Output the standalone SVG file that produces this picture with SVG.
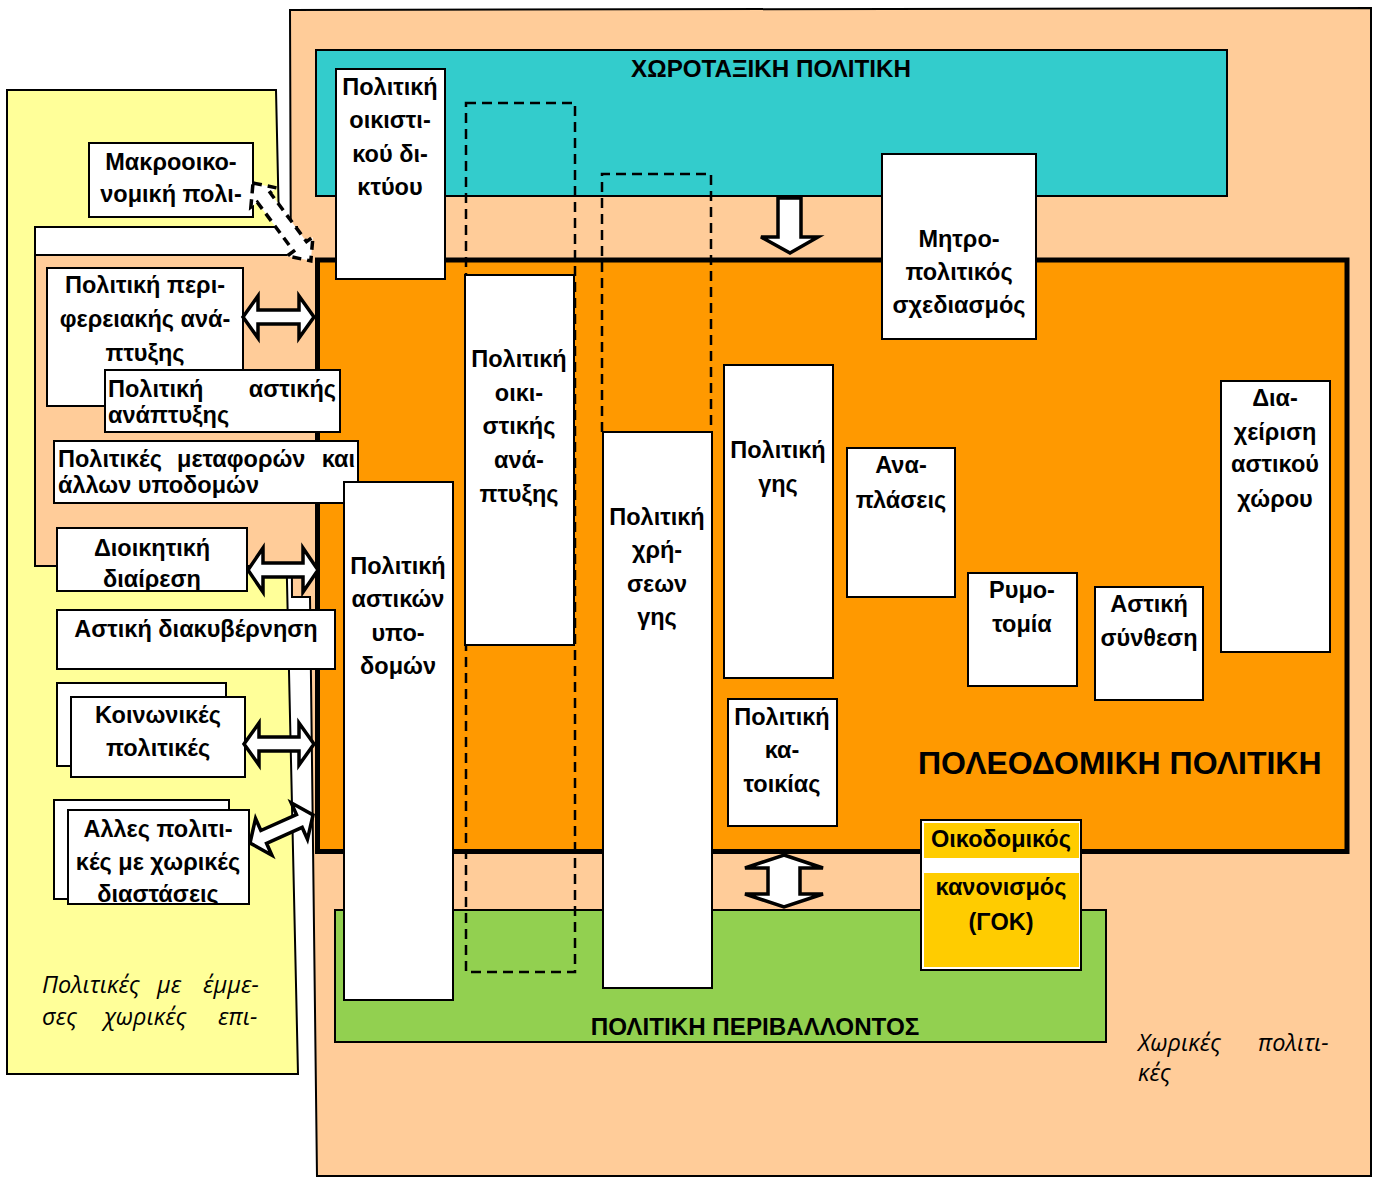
<svg xmlns="http://www.w3.org/2000/svg" width="1380" height="1178" viewBox="0 0 1380 1178">
<style>
.t{font-family:"Liberation Sans",Arial,sans-serif;font-weight:bold;font-size:23.5px;fill:#000}
.tm{text-anchor:middle}
.te{text-anchor:end}
.ti{font-size:24.2px}
.it{font-family:"Open Sans","DejaVu Sans",sans-serif;font-style:italic;font-size:23.5px;fill:#000}
.box{fill:#fff;stroke:#000;stroke-width:2}
.dash{fill:none;stroke:#000;stroke-width:2.5;stroke-dasharray:10 6}
.arr{fill:#fff;stroke:#000;stroke-width:3.5;stroke-linejoin:miter}
</style>
<defs>
<clipPath id="cAl"><rect x="68" y="810" width="181" height="94"/></clipPath>
<clipPath id="cDi"><rect x="57" y="528" width="190" height="63"/></clipPath>
</defs>
<rect width="1380" height="1178" fill="#fff"/>
<g id="areas">
<polygon points="7,90 276,90 298,1074 7,1074" fill="#FFFF99" stroke="#000" stroke-width="2"/>
<polygon points="290,10 1371,8 1371,1176 317,1176 310,597 292,597" fill="#FFCC99" stroke="#000" stroke-width="2"/>
<rect x="35" y="227" width="262" height="28" fill="#fff" stroke="#000" stroke-width="2"/>
<rect x="35" y="255" width="262" height="311" fill="#FFCC99"/>
<polyline points="297,255 35,255 35,566 292,566" fill="none" stroke="#000" stroke-width="2"/>
<rect id="choro" x="316" y="50" width="911" height="146" fill="#33CCCC" stroke="#000" stroke-width="2"/>
<rect id="perival" x="335" y="910" width="771" height="132" fill="#92D050" stroke="#000" stroke-width="2"/>
<rect id="poleod" x="317.5" y="260" width="1029.5" height="591.5" fill="#FF9900" stroke="#000" stroke-width="5"/>
<text class="t tm ti" x="771" y="77">ΧΩΡΟΤΑΞΙΚΗ ΠΟΛΙΤΙΚΗ</text>
<text class="t tm ti" x="755" y="1035">ΠΟΛΙΤΙΚΗ ΠΕΡΙΒΑΛΛΟΝΤΟΣ</text>
<text class="t" x="918" y="774" style="font-size:32px">ΠΟΛΕΟΔΟΜΙΚΗ ΠΟΛΙΤΙΚΗ</text>
<text class="it" y="993"><tspan x="42">Πολιτικές</tspan><tspan x="157">με</tspan><tspan x="203">έμμε-</tspan></text>
<text class="it" y="1025"><tspan x="42">σες</tspan><tspan x="104">χωρικές</tspan><tspan x="218">επι-</tspan></text>
<text class="it" y="1051"><tspan x="1138">Χωρικές</tspan><tspan x="1258">πολιτι-</tspan></text>
<text class="it" x="1138" y="1081">κές</text>
</g>
<g id="dashed">
<rect class="dash" x="466" y="103" width="109" height="869"/>
<polyline class="dash" points="602,432 602,174 711,174 711,432"/>
</g>
<g id="n-makro"><rect class="box" x="89" y="143" width="164" height="74"/>
<text class="t tm" x="171" y="170">Μακροοικο-</text><text class="t tm" x="171" y="202">νομική πολι-</text></g>
<g id="n-perif"><rect class="box" x="47" y="268" width="196" height="138"/>
<text class="t tm" x="145" y="293">Πολιτική περι-</text><text class="t tm" x="145" y="327">φερειακής ανά-</text><text class="t tm" x="145" y="361">πτυξης</text></g>
<g id="n-astan"><rect class="box" x="105" y="370" width="235" height="62"/>
<text class="t" x="108" y="397">Πολιτική</text><text class="t te" x="336" y="397">αστικής</text><text class="t" x="108" y="423">ανάπτυξης</text></g>
<g id="n-metaf"><rect class="box" x="54" y="441" width="304" height="62"/>
<text class="t" x="58" y="467">Πολιτικές</text><text class="t" x="177" y="467">μεταφορών</text><text class="t te" x="355" y="467">και</text><text class="t" x="58" y="493">άλλων υποδομών</text></g>
<g id="n-dioik"><rect class="box" x="57" y="528" width="190" height="63"/>
<g clip-path="url(#cDi)"><text class="t tm" x="152" y="556">Διοικητική</text><text class="t tm" x="152" y="587">διαίρεση</text></g></g>
<g id="n-diak"><rect class="box" x="57" y="610" width="278" height="59"/>
<text class="t tm" x="196" y="637">Αστική διακυβέρνηση</text></g>
<g id="n-koin"><rect class="box" x="57" y="683" width="169" height="83"/><rect class="box" x="71" y="697" width="174" height="80"/>
<text class="t tm" x="158" y="723">Κοινωνικές</text><text class="t tm" x="158" y="756">πολιτικές</text></g>
<g id="n-alles"><rect class="box" x="54" y="800" width="175" height="99"/><rect class="box" x="68" y="810" width="181" height="94"/>
<g clip-path="url(#cAl)"><text class="t tm" x="158" y="837">Αλλες πολιτι-</text><text class="t tm" x="158" y="870">κές με χωρικές</text><text class="t tm" x="158" y="902">διαστάσεις</text></g></g>
<g id="n-oikdikt"><rect class="box" x="336" y="69" width="109" height="210"/>
<text class="t tm" x="390" y="95">Πολιτική</text><text class="t tm" x="390" y="128">οικιστι-</text><text class="t tm" x="390" y="162">κού δι-</text><text class="t tm" x="390" y="195">κτύου</text></g>
<g id="n-oikan"><rect class="box" x="465" y="275" width="109" height="370"/>
<text class="t tm" x="519" y="367">Πολιτική</text><text class="t tm" x="519" y="401">οικι-</text><text class="t tm" x="519" y="434">στικής</text><text class="t tm" x="519" y="468">ανά-</text><text class="t tm" x="519" y="502">πτυξης</text></g>
<g id="n-xrhs"><rect class="box" x="603" y="432" width="109" height="556"/>
<text class="t tm" x="657" y="525">Πολιτική</text><text class="t tm" x="657" y="558">χρή-</text><text class="t tm" x="657" y="592">σεων</text><text class="t tm" x="657" y="625">γης</text></g>
<g id="n-ypod"><rect class="box" x="344" y="482" width="109" height="518"/>
<text class="t tm" x="398" y="574">Πολιτική</text><text class="t tm" x="398" y="607">αστικών</text><text class="t tm" x="398" y="641">υπο-</text><text class="t tm" x="398" y="674">δομών</text></g>
<g id="n-mhtro"><rect class="box" x="882" y="154" width="154" height="185"/>
<text class="t tm" x="959" y="247">Μητρο-</text><text class="t tm" x="959" y="280">πολιτικός</text><text class="t tm" x="959" y="313">σχεδιασμός</text></g>
<g id="n-gis"><rect class="box" x="724" y="365" width="109" height="313"/>
<text class="t tm" x="778" y="458">Πολιτική</text><text class="t tm" x="778" y="492">γης</text></g>
<g id="n-anapl"><rect class="box" x="847" y="448" width="108" height="149"/>
<text class="t tm" x="901" y="473">Ανα-</text><text class="t tm" x="901" y="508">πλάσεις</text></g>
<g id="n-rymo"><rect class="box" x="968" y="573" width="109" height="113"/>
<text class="t tm" x="1022" y="598">Ρυμο-</text><text class="t tm" x="1022" y="632">τομία</text></g>
<g id="n-synth"><rect class="box" x="1095" y="587" width="108" height="113"/>
<text class="t tm" x="1149" y="612">Αστική</text><text class="t tm" x="1149" y="646">σύνθεση</text></g>
<g id="n-diax"><rect class="box" x="1221" y="381" width="109" height="271"/>
<text class="t tm" x="1275" y="406">Δια-</text><text class="t tm" x="1275" y="440">χείριση</text><text class="t tm" x="1275" y="472">αστικού</text><text class="t tm" x="1275" y="507">χώρου</text></g>
<g id="n-katoik"><rect class="box" x="728" y="699" width="109" height="127"/>
<text class="t tm" x="782" y="725">Πολιτική</text><text class="t tm" x="782" y="758">κα-</text><text class="t tm" x="782" y="792">τοικίας</text></g>
<g id="n-gok"><rect x="921" y="820" width="160" height="150" fill="#fff" stroke="#000" stroke-width="2"/>
<rect x="924" y="823" width="155" height="35" fill="#FFCC00"/><rect x="924" y="873" width="155" height="94" fill="#FFCC00"/>
<text class="t tm" x="1001" y="847">Οικοδομικός</text><text class="t tm" x="1001" y="895">κανονισμός</text><text class="t tm" x="1001" y="930">(ΓΟΚ)</text></g>
<g id="connectors">
<path class="arr" transform="translate(243,317)" d="M0,0 L15,-21 L15,-7 L56,-7 L56,-21 L71,0 L56,21 L56,7 L15,7 L15,21 Z"/>
<path class="arr" transform="translate(248,570)" d="M0,0 L15,-22 L15,-7 L55,-7 L55,-22 L70,0 L55,22 L55,7 L15,7 L15,22 Z"/>
<path class="arr" transform="translate(244,744)" d="M0,0 L15,-21 L15,-7 L55,-7 L55,-21 L70,0 L55,21 L55,7 L15,7 L15,21 Z"/>
<path class="arr" transform="translate(250,843) rotate(-24)" d="M0,0 L15,-20 L15,-7 L54,-7 L54,-20 L69,0 L54,20 L54,7 L15,7 L15,20 Z"/>
<path class="arr" transform="translate(784,855) rotate(90)" d="M0,0 L13,-39 L13,-16 L39,-16 L39,-39 L52,0 L39,39 L39,16 L13,16 L13,39 Z"/>
<path class="arr" d="M778,198 H801 V237 H818 L790,253 L761,237 H778 Z"/>
<path transform="translate(253,183) rotate(53.4)" d="M0,0 L18,-16 L18,-8 L79,-8 L79,-16 L97,0 L79,16 L79,8 L18,8 L18,16 Z" fill="#fff" stroke="#000" stroke-width="3.5" stroke-dasharray="9 6"/>
</g>
</svg>
